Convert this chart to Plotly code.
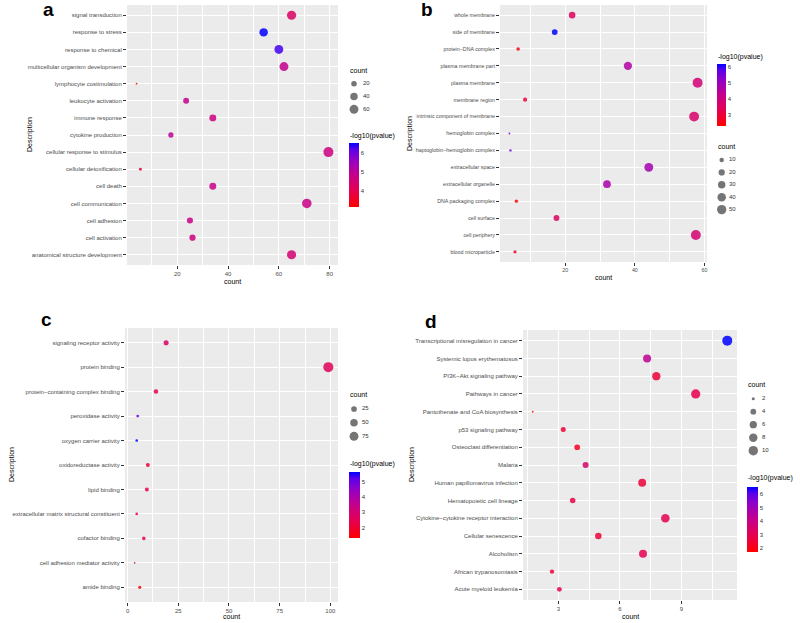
import plotly.graph_objects as go
import numpy as np

W, H = 800, 623
FONT = "Liberation Sans"

# ---------------- data (top-to-bottom order as displayed) ----------------
a_terms = ["signal transduction", "response to stress", "response to chemical",
           "multicellular organism development", "lymphocyte costimulation",
           "leukocyte activation", "immune response", "cytokine production",
           "cellular response to stimulus", "cellular detoxification", "cell death",
           "cell communication", "cell adhesion", "cell activation",
           "anatomical structure development"]
a_count = [65, 54, 60, 62, 4, 23.5, 34, 17.5, 79.5, 5.5, 34, 71, 25, 26, 65]
a_logp = [4.3, 6.56, 6.3, 4.9, 3.17, 4.9, 4.7, 5.0, 4.7, 3.8, 4.8, 4.8, 4.8, 4.7, 4.5]
a_size_keys = [20, 40, 60]

b_terms = ["whole membrane", "side of membrane", "protein\u2212DNA complex",
           "plasma membrane part", "plasma membrane", "membrane region",
           "intrinsic component of membrane", "hemoglobin complex",
           "haptoglobin\u2212hemoglobin complex", "extracellular space",
           "extracellular organelle", "DNA packaging complex", "cell surface",
           "cell periphery", "blood microparticle"]
b_count = [22, 17, 6.5, 38, 58, 8.5, 57, 4, 4.3, 44, 32, 6, 17.5, 57.5, 5.6]
b_logp = [3.5, 6.15, 2.6, 4.6, 3.9, 3.0, 3.7, 5.5, 5.5, 4.8, 4.7, 2.32, 3.6, 3.8, 2.8]
b_size_keys = [10, 20, 30, 40, 50]

c_terms = ["signaling receptor activity", "protein binding",
           "protein\u2212containing complex binding", "peroxidase activity",
           "oxygen carrier activity", "oxidoreductase activity", "lipid binding",
           "extracellular matrix structural constituent", "cofactor binding",
           "cell adhesion mediator activity", "amide binding"]
c_count = [19, 99, 14, 5, 4.5, 10, 9.5, 4.5, 8, 3.5, 6]
c_logp = [2.8, 2.6, 2.3, 5.0, 5.63, 2.0, 2.4, 2.5, 2.2, 3.0, 1.35]
c_size_keys = [25, 50, 75]

d_terms = ["Transcriptional misregulation in cancer", "Systemic lupus erythematosus",
           "PI3K\u2212Akt signaling pathway", "Pathways in cancer",
           "Pantothenate and CoA biosynthesis", "p53 signaling pathway",
           "Osteoclast differentiation", "Malaria", "Human papillomavirus infection",
           "Hematopoietic cell lineage", "Cytokine\u2212cytokine receptor interaction",
           "Cellular senescence", "Alcoholism", "African trypanosomiasis",
           "Acute myeloid leukemia"]
d_count = [11.24, 7.33, 7.78, 9.7, 1.75, 3.24, 3.92, 4.33, 7.09, 3.7, 8.22, 4.95, 7.13, 2.69, 3.05]
d_logp = [6.56, 4.3, 2.6, 2.9, 1.75, 2.5, 2.2, 3.5, 2.6, 2.8, 3.0, 2.6, 3.0, 2.7, 3.0]
d_size_keys = [2, 4, 6, 8, 10]

# ---------------- layout specs (pixels) ----------------
panels = [
    dict(letter="a", terms=a_terms, count=a_count, logp=a_logp, keys=a_size_keys,
         box=(127, 338, 5, 265), dtick=20, minor=10, fs=6,
         cbar=(349, 10, 142.7, 206.7), cbar_title=(348, 136),
         size_title=(348, 70), size_leg=(354, 363, 83.7, 12.8),
         letter_pos=(48, 10), ytitle=(30, 135), xtitle_y=281),
    dict(letter="b", terms=b_terms, count=b_count, logp=b_logp, keys=b_size_keys,
         box=(500, 707, 5, 262), dtick=20, minor=10, fs=5.3,
         cbar=(716.7, 8.5, 64.3, 126), cbar_title=(716, 57),
         size_title=(716, 146), size_leg=(721.7, 729, 160, 12.4),
         letter_pos=(427, 10), ytitle=(410, 133), xtitle_y=277),
    dict(letter="c", terms=c_terms, count=c_count, logp=c_logp, keys=c_size_keys,
         box=(125, 338, 328, 602), dtick=25, minor=12.5, fs=6,
         cbar=(349, 11, 471.7, 537.7), cbar_title=(348, 464),
         size_title=(348, 394), size_leg=(354, 362, 409, 13.65),
         letter_pos=(46, 320), ytitle=(12, 465), xtitle_y=616),
    dict(letter="d", terms=d_terms, count=d_count, logp=d_logp, keys=d_size_keys,
         box=(523, 737, 330, 600), dtick=3, minor=1.5, fs=6,
         cbar=(747.3, 11, 486.7, 551.7), cbar_title=(746, 478),
         size_title=(746, 384), size_leg=(753.3, 762, 398.7, 13.0),
         letter_pos=(431, 321), ytitle=(412, 465), xtitle_y=616),
]

colorscale = [[0.0, "#FF0000"], [0.25, "#E6004F"], [0.5, "#C5008C"],
              [0.75, "#9000C8"], [0.9, "#5A00EA"], [1.0, "#0000FF"]]


def fx(px):
    return px / W


def fy(py):
    return 1 - py / H


def size_fun(v, vmin, vmax):
    v = np.asarray(v, dtype=float)
    t = np.clip((v - vmin) / (vmax - vmin), 0, 1)
    return 1.8 + 8.2 * np.sqrt(t)


fig = go.Figure()
layout = dict(width=W, height=H, margin=dict(l=0, r=0, t=0, b=0),
              paper_bgcolor="white", plot_bgcolor="rgba(0,0,0,0)",
              showlegend=False, annotations=[], shapes=[])

for i, p in enumerate(panels):
    xa_main = f"x{2*i+1}" if i > 0 else "x"
    ya_main = f"y{2*i+1}" if i > 0 else "y"
    xa_leg = f"x{2*i+2}"
    ya_leg = f"y{2*i+2}"
    xkey_main = "xaxis" if i == 0 else f"xaxis{2*i+1}"
    ykey_main = "yaxis" if i == 0 else f"yaxis{2*i+1}"
    xkey_leg = f"xaxis{2*i+2}"
    ykey_leg = f"yaxis{2*i+2}"
    cax = "coloraxis" if i == 0 else f"coloraxis{i+1}"
    tickfont = dict(family=FONT, size=p["fs"], color="#4D4D4D")

    cnt = np.array(p["count"], dtype=float)
    vmin, vmax = cnt.min(), cnt.max()
    pad = (vmax - vmin) * 0.05
    n = len(p["terms"])
    x0, x1, y0, y1 = p["box"]

    fig.add_trace(go.Scatter(
        x=p["count"], y=p["terms"], mode="markers",
        xaxis=xa_main, yaxis=ya_main,
        marker=dict(size=size_fun(cnt, vmin, vmax), color=p["logp"],
                    coloraxis=cax, opacity=0.85, line=dict(width=0)),
        hoverinfo="x+y"))

    layout[xkey_main] = dict(
        domain=[fx(x0), fx(x1)], anchor=ya_main, range=[vmin - pad, vmax + pad],
        tick0=0, dtick=p["dtick"], showgrid=True, gridcolor="white", gridwidth=1,
        zeroline=False, showline=False, ticks="outside", ticklen=3, tickwidth=0.6,
        tickcolor="#333333", tickfont=tickfont,
        minor=dict(tick0=0, dtick=p["minor"], showgrid=True, gridcolor="white",
                   gridwidth=0.5, ticks=""))
    layout[ykey_main] = dict(
        domain=[fy(y1), fy(y0)], anchor=xa_main, type="category",
        categoryorder="array", categoryarray=p["terms"],
        range=[n - 1 + 0.6, -0.6], showgrid=True, gridcolor="white", gridwidth=1,
        zeroline=False, showline=False, ticks="outside", ticklen=3, tickwidth=0.6,
        tickcolor="#333333", tickfont=tickfont)

    # panel background
    layout["shapes"].append(dict(type="rect", xref=f"{xa_main} domain", yref=f"{ya_main} domain",
                                 x0=0, x1=1, y0=0, y1=1, fillcolor="#EBEBEB",
                                 line=dict(width=0), layer="below"))

    # colour bar
    cbx, cbt, cby0, cby1 = p["cbar"]
    layout[cax] = dict(
        colorscale=colorscale,
        cmin=min(p["logp"]), cmax=max(p["logp"]),
        colorbar=dict(x=fx(cbx), xanchor="left", xref="paper",
                      y=fy((cby0 + cby1) / 2), yanchor="middle",
                      lenmode="pixels", len=cby1 - cby0,
                      thicknessmode="pixels", thickness=cbt,
                      outlinewidth=0, xpad=0, ypad=0, ticks="", dtick=1,
                      tickfont=dict(family=FONT, size=6, color="#333333")))
    layout["annotations"].append(dict(
        text="-log10(pvalue)", x=fx(p["cbar_title"][0]), y=fy(p["cbar_title"][1]),
        xref="paper", yref="paper", xanchor="left", yanchor="middle", showarrow=False,
        font=dict(family=FONT, size=7, color="black")))

    # size legend (keys drawn through a hidden axis pair)
    dotx, labx, c0, sp = p["size_leg"]
    keys = p["keys"]
    nk = len(keys)
    lx0 = dotx - 10
    layout[xkey_leg] = dict(domain=[fx(lx0), fx(lx0 + 40)], anchor=ya_leg,
                            range=[0, 40], visible=False, showgrid=False, zeroline=False)
    layout[ykey_leg] = dict(domain=[fy(c0 + (nk - 0.5) * sp), fy(c0 - sp / 2)],
                            anchor=xa_leg, type="category",
                            categoryarray=[str(k) for k in keys], categoryorder="array",
                            range=[nk - 0.5, -0.5], visible=False, showgrid=False,
                            zeroline=False)
    fig.add_trace(go.Scatter(
        x=[dotx - lx0] * nk, y=[str(k) for k in keys], mode="markers",
        xaxis=xa_leg, yaxis=ya_leg,
        marker=dict(size=size_fun(keys, vmin, vmax), color="#3A3A3A", line=dict(width=0)),
        hoverinfo="skip"))
    fig.add_trace(go.Scatter(
        x=[labx - lx0] * nk, y=[str(k) for k in keys], mode="text",
        text=[str(k) for k in keys], textposition="middle right",
        xaxis=xa_leg, yaxis=ya_leg,
        textfont=dict(family=FONT, size=6, color="#333333"), hoverinfo="skip"))
    layout["annotations"].append(dict(
        text="count", x=fx(p["size_title"][0]), y=fy(p["size_title"][1]),
        xref="paper", yref="paper", xanchor="left", yanchor="middle", showarrow=False,
        font=dict(family=FONT, size=7, color="black")))

    # axis titles
    layout["annotations"].append(dict(
        text="count", x=fx((x0 + x1) / 2), y=fy(p["xtitle_y"]),
        xref="paper", yref="paper", xanchor="center", yanchor="middle", showarrow=False,
        font=dict(family=FONT, size=7, color="black")))
    layout["annotations"].append(dict(
        text="Description", x=fx(p["ytitle"][0]), y=fy(p["ytitle"][1]),
        xref="paper", yref="paper", xanchor="center", yanchor="middle", showarrow=False,
        textangle=-90, font=dict(family=FONT, size=7, color="black")))
    # panel letter
    layout["annotations"].append(dict(
        text=f"<b>{p['letter']}</b>", x=fx(p["letter_pos"][0]), y=fy(p["letter_pos"][1]),
        xref="paper", yref="paper", xanchor="center", yanchor="middle", showarrow=False,
        font=dict(family=FONT, size=19, color="black")))

fig.update_layout(**layout)
fig.write_html("out.html", config={"displayModeBar": False},
               post_script="document.body.style.margin='0';document.body.style.padding='0';")
